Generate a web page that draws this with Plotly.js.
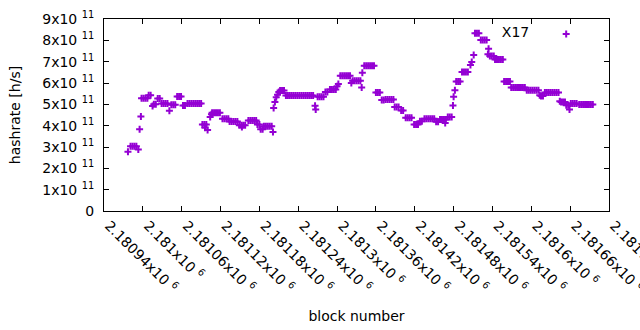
<!DOCTYPE html>
<html>
<head>
<meta charset="utf-8">
<script src="https://cdn.plot.ly/plotly-3.0.1.min.js"></script>
<style>
  html, body { margin: 0; padding: 0; background: #ffffff; }
  #chart { width: 640px; height: 330px; }
</style>
</head>
<body>
<div id="chart"></div>
<script>
// Block numbers are stored as offsets from this base block
const BASE_BLOCK = 2180940;

// Block offsets (block number - BASE_BLOCK)
const blockOffset = [
  37,
  41, 44, 47, 50,
  53, 55, 57,
  58, 61, 64, 67,
  69, 72,
  75,
  77, 80,
  83, 86,
  89, 92, 95, 98,
  101,
  104, 107, 110,
  113, 116, 119,
  122, 125,
  129, 132, 135, 138, 141, 144, 147, 150,
  152, 155, 156, 158, 160,
  164, 166,
  167, 170, 173, 176, 179,
  183, 186, 189, 192,
  194, 197, 200, 203, 206,
  209, 212, 213, 215, 218,
  223, 226, 229, 232, 235,
  237, 240,
  242, 245,
  247, 250, 253, 256, 259,
  261, 262, 264, 266, 268, 270,
  272, 275, 278,
  281, 284, 287, 290, 293, 296, 299, 302, 305, 308, 311, 314, 317, 320, 323,
  326, 327,
  330, 333, 336, 339,
  342, 345,
  349, 352, 355, 358,
  360, 362,
  365, 368, 371, 374, 377, 380,
  382,
  384, 387, 390, 393, 396,
  398, 399,
  402, 405, 408, 411, 414, 417,
  420, 423, 426,
  429, 432,
  435, 438, 441, 444, 447,
  449, 452, 455,
  459, 462,
  466, 469, 472, 475,
  479, 482, 485,
  488, 491,
  495, 498, 501, 504, 507, 510,
  513, 516,
  519, 522, 525, 527, 528,
  531, 534, 537,
  539, 540, 542,
  544, 547, 550,
  553, 556, 559, 562,
  566, 568, 571,
  573, 576, 579,
  582, 585, 588, 591,
  593, 594,
  596, 599, 602,
  604, 607, 610, 613, 616,
  618, 621, 624, 627,
  629, 632, 635, 638, 641, 644, 647, 650,
  653, 656, 659, 662, 665, 668, 671,
  673,
  675, 678,
  681, 684, 687, 690, 693, 696, 699, 702,
  704,
  706, 709, 712,
  714, 717,
  719,
  721, 724, 727, 730,
  734, 737, 740, 743, 746, 749, 752, 755
];

// Hashrate in units of 1e11 h/s, one per block offset above
const hashrate1e11 = [
  2.78,
  3.03, 3.03, 3.03, 3.03,
  2.88, 3.83, 4.43,
  5.29, 5.29, 5.29, 5.29,
  5.43, 5.43,
  4.92,
  5.00, 5.00,
  5.27, 5.27,
  5.04, 5.04, 5.04, 5.04,
  4.70,
  4.98, 4.98, 4.98,
  5.37, 5.37, 5.37,
  4.95, 4.95,
  5.04, 5.04, 5.04, 5.04, 5.04, 5.04, 5.04, 5.04,
  4.05, 4.05, 3.90, 4.05, 3.80,
  4.41, 4.53,
  4.60, 4.60, 4.60, 4.60, 4.60,
  4.33, 4.33, 4.33, 4.33,
  4.19, 4.19, 4.19, 4.19, 4.19,
  4.02, 4.02, 3.94, 4.02, 4.02,
  4.24, 4.24, 4.24, 4.24, 4.24,
  4.06, 4.06,
  3.83, 3.83,
  3.97, 3.97, 3.97, 3.97, 3.97,
  3.70, 4.83, 5.11, 5.33, 5.45, 5.58,
  5.65, 5.65, 5.65,
  5.41, 5.41, 5.41, 5.41, 5.41, 5.41, 5.41, 5.41, 5.41, 5.41, 5.41, 5.41, 5.41, 5.41, 5.41,
  4.93, 4.76,
  5.36, 5.36, 5.36, 5.36,
  5.58, 5.58,
  5.69, 5.69, 5.69, 5.69,
  5.85, 5.95,
  6.34, 6.34, 6.34, 6.34, 6.34, 6.34,
  6.00,
  6.10, 6.10, 6.10, 6.10, 6.10,
  5.79, 6.48,
  6.81, 6.81, 6.81, 6.81, 6.81, 6.81,
  5.55, 5.55, 5.55,
  5.20, 5.20,
  5.23, 5.23, 5.23, 5.23, 5.23,
  4.88, 4.88, 4.88,
  4.71, 4.71,
  4.37, 4.37, 4.37, 4.37,
  4.06, 4.06, 4.06,
  4.21, 4.21,
  4.33, 4.33, 4.33, 4.33, 4.33, 4.33,
  4.18, 4.18,
  4.29, 4.29, 4.29, 4.13, 4.29,
  4.41, 4.41, 4.41,
  4.94, 5.36, 5.66,
  6.07, 6.07, 6.07,
  6.52, 6.52, 6.52, 6.52,
  6.84, 6.99, 7.31,
  8.33, 8.33, 8.33,
  8.02, 8.02, 8.02, 8.02,
  7.35, 7.60,
  7.26, 7.26, 7.26,
  7.10, 7.10, 7.10, 7.10, 7.10,
  6.07, 6.07, 6.07, 6.07,
  5.79, 5.79, 5.79, 5.79, 5.79, 5.79, 5.79, 5.79,
  5.66, 5.66, 5.66, 5.66, 5.66, 5.66, 5.66,
  5.43,
  5.39, 5.39,
  5.55, 5.55, 5.55, 5.55, 5.55, 5.55, 5.55, 5.55,
  5.15,
  5.11, 5.11, 5.11,
  4.96, 4.96,
  4.76,
  5.04, 5.04, 5.04, 5.04,
  4.99, 4.99, 4.99, 4.99, 4.99, 4.99, 4.99, 4.99
];

// Axis ticks
const xTickBlocks = [2180940, 2181000, 2181060, 2181120, 2181180, 2181240, 2181300,
                     2181360, 2181420, 2181480, 2181540, 2181600, 2181660, 2181720];
const xTickText = ["2.18094", "2.181", "2.18106", "2.18112", "2.18118", "2.18124", "2.1813",
                   "2.18136", "2.18142", "2.18148", "2.18154", "2.1816", "2.18166", "2.18172"];
const yTickVals = [0, 1, 2, 3, 4, 5, 6, 7, 8, 9];
const yTickText = ["0", "1x10", "2x10", "3x10", "4x10", "5x10", "6x10", "7x10", "8x10", "9x10"];

const seriesName = "X17";

const FONT = "DejaVu Sans, Verdana, sans-serif";
const FS = 14;
const COLOR = "#9400d3";

const trace = {
  type: "scatter",
  mode: "markers",
  x: blockOffset.map(o => BASE_BLOCK + o),
  y: hashrate1e11,
  name: " ",
  showlegend: true,
  marker: {
    symbol: "cross-thin",
    size: 5,
    color: COLOR,
    line: { color: COLOR, width: 2 }
  },
  hoverinfo: "x+y"
};

const layout = {
  width: 640,
  height: 330,
  margin: { l: 104, r: 31, t: 19, b: 119 },
  paper_bgcolor: "#ffffff",
  plot_bgcolor: "#ffffff",
  font: { family: FONT, size: FS, color: "#000000" },
  showlegend: true,
  legend: {
    x: 0.974, y: 1.003, xanchor: "right", yanchor: "top",
    bgcolor: "rgba(0,0,0,0)",
    title: { text: seriesName + "\u00A0\u00A0", side: "left", font: { family: FONT, size: FS } },
    font: { family: FONT, size: FS }
  },
  xaxis: {
    range: [2180940, 2181720],
    tickmode: "array",
    tickvals: xTickBlocks,
    ticktext: xTickText.map(t => t + "x10 <sup>6</sup>"),
    tickangle: 45,
    ticklabeloverflow: "allow",
    ticklabelshift: 5,
    ticks: "inside",
    ticklen: 5,
    tickcolor: "#000",
    showline: true,
    linecolor: "#000",
    linewidth: 1,
    mirror: "ticks",
    showgrid: false,
    zeroline: false,
    tickfont: { family: FONT, size: FS },
    title: { text: "block number", font: { family: FONT, size: FS }, standoff: 16 },
    automargin: false
  },
  yaxis: {
    range: [0, 9],
    tickmode: "array",
    tickvals: yTickVals,
    ticktext: yTickText.map(t => t === "0" ? t : t + " <sup>11</sup>"),
    ticks: "inside",
    ticklen: 5,
    tickcolor: "#000",
    showline: true,
    linecolor: "#000",
    linewidth: 1,
    mirror: "ticks",
    showgrid: false,
    zeroline: false,
    ticklabelstandoff: 6,
    tickfont: { family: FONT, size: FS },
    title: { text: "hashrate [h/s]", font: { family: FONT, size: FS }, standoff: 18 },
    automargin: false
  }
};

Plotly.newPlot("chart", [trace], layout, { displayModeBar: false, staticPlot: true });
</script>
</body>
</html>
